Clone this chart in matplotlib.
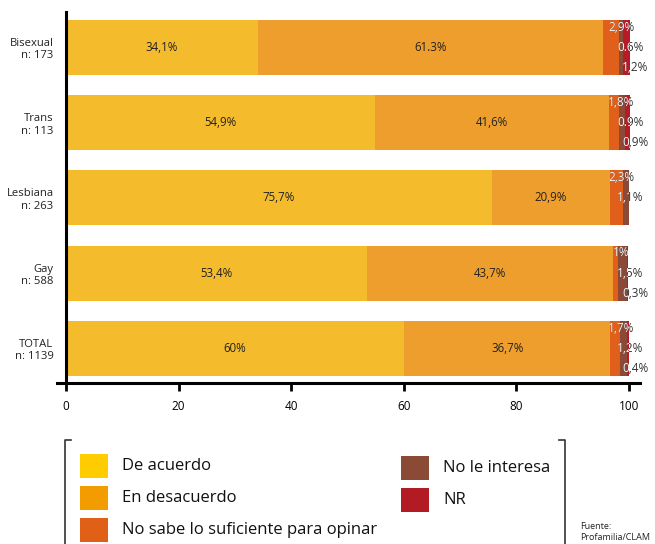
import matplotlib.pyplot as plt
from matplotlib.patches import Rectangle
from matplotlib.lines import Line2D
from matplotlib.transforms import Bbox, TransformedBbox

plt.rcParams['font.family'] = ['Open Sans', 'DejaVu Sans']

groups = ['Bisexual\nn: 173', 'Trans\nn: 113', 'Lesbiana\nn: 263', 'Gay\nn: 588', 'TOTAL\nn: 1139']
de_acuerdo = [34.1, 54.9, 75.7, 53.4, 60.0]
en_desacuerdo = [61.3, 41.6, 20.9, 43.7, 36.7]
no_sabe = [2.9, 1.8, 2.3, 1.0, 1.7]
no_interesa = [0.6, 0.9, 1.1, 1.5, 1.2]
nr = [1.2, 0.9, 0.0, 0.3, 0.4]

lbl_acuerdo = ['34,1%', '54,9%', '75,7%', '53,4%', '60%']
lbl_desacuerdo = ['61.3%', '41,6%', '20,9%', '43,7%', '36,7%']
lbl_small = [['2,9%', '0.6%', '1,2%'],
             ['1,8%', '0.9%', '0,9%'],
             ['2,3%', '1,1%', ''],
             ['1%', '1,5%', '0,3%'],
             ['1,7%', '1,2%', '0,4%']]

series = [de_acuerdo, en_desacuerdo, no_sabe, no_interesa, nr]
bar_colors = ['#F4BC2C', '#EE9E2C', '#E0601B', '#8A4A37', '#B51C25']
leg_names = ['De acuerdo', 'En desacuerdo', 'No sabe lo suficiente para opinar',
             'No le interesa', 'NR']
leg_colors = ['#FFCC00', '#F39C00', '#E06018', '#8B4A36', '#B31B24']

fig = plt.figure(figsize=(6.55, 5.44), dpi=100)
ax = fig.add_axes([57/655, 161/544, 583/655, 371/544])

y = list(range(len(groups)))
h = 0.73
left = [0.0] * len(groups)
for vals, c in zip(series, bar_colors):
    ax.barh(y, vals, left=left, height=h, color=c, linewidth=0)
    left = [l + v for l, v in zip(left, vals)]

ax.set_xlim(-1.6, 101.95)
ax.set_ylim(4.46, -0.47)

# spine position first: it resets the ticks
for s in ['top', 'right']:
    ax.spines[s].set_visible(False)
ax.spines['left'].set_position(('data', 0))
ax.spines['left'].set_linewidth(2.2)
ax.spines['bottom'].set_linewidth(2.2)

for i in y:
    ax.text(de_acuerdo[i] / 2, i, lbl_acuerdo[i], ha='center', va='center', fontsize=8.3, color='#222222')
    ax.text(de_acuerdo[i] + en_desacuerdo[i] / 2, i, lbl_desacuerdo[i], ha='center', va='center',
            fontsize=8.3, color='#222222')
    box = TransformedBbox(Bbox([[0, i - h / 2], [left[i], i + h / 2]]), ax.transData)
    for k, (dx, dy) in enumerate([(98.6, -0.27), (100.2, 0.0), (101.1, 0.27)]):
        s = lbl_small[i][k]
        if not s:
            continue
        ax.text(dx, i + dy, s, ha='center', va='center', fontsize=8.5, color='#333333', clip_on=False)
        t = ax.text(dx, i + dy, s, ha='center', va='center', fontsize=8.5, color='white')
        t.set_clip_on(True)
        t.set_clip_box(box)

ax.set_xticks([0, 20, 40, 60, 80, 100])
ax.tick_params(axis='x', direction='out', length=6, width=2, labelsize=8.5, pad=6)
ax.tick_params(axis='y', length=0, pad=9)
ax.set_yticks(y)
ax.set_yticklabels(groups, fontsize=8.1, color='#222222', linespacing=1.2)

# legend box (bracket style)
fig.add_artist(Line2D([65/655, 65/655, 71/655], [0, 104/544, 104/544], transform=fig.transFigure,
                      color='#333333', lw=1.2))
fig.add_artist(Line2D([559/655, 565/655, 565/655], [104/544, 104/544, 0], transform=fig.transFigure,
                      color='#333333', lw=1.2))
pos = [(80, 466), (80, 498), (80, 530), (401, 468), (401, 500)]
for (px, py), name, c in zip(pos, leg_names, leg_colors):
    fig.add_artist(Rectangle((px/655, (544 - py - 12)/544), 28/655, 24/544,
                             transform=fig.transFigure, color=c, lw=0))
    fig.text((px + 42)/655, (544 - py)/544, name, fontsize=12, va='center', ha='left', color='#111111')

fig.text(580/655, 22/544, 'Fuente:\nProfamilia/CLAM', fontsize=6.5, va='top', ha='left',
         color='#222222', linespacing=1.3)

fig.savefig('out.png', dpi=100)
